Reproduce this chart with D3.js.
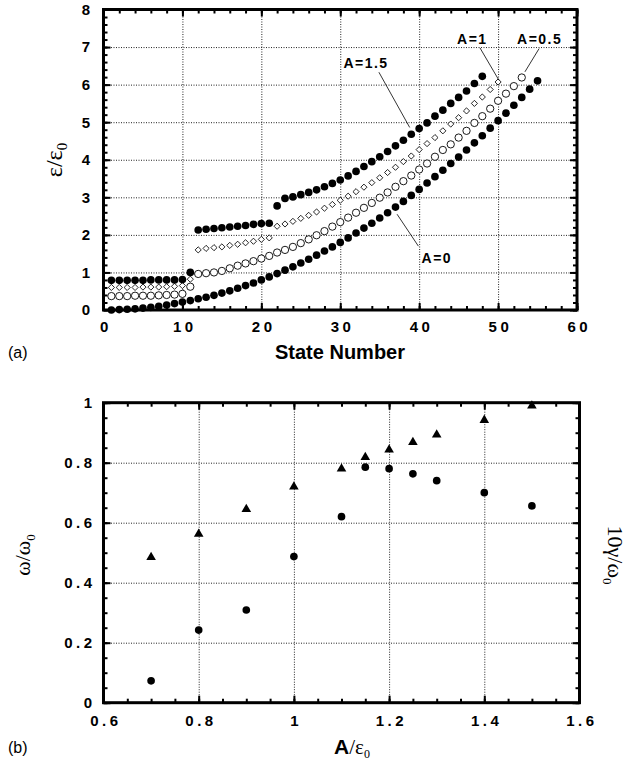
<!DOCTYPE html>
<html>
<head>
<meta charset="utf-8">
<script src="https://cdn.jsdelivr.net/npm/d3@7/dist/d3.min.js"></script>
<style>
  body { margin: 0; background: #fff; }
  .tick text { font-family: "Liberation Sans", Arial, sans-serif; font-weight: bold; fill: #000; }
  .rejilla line { stroke: #222; stroke-width: 1; stroke-dasharray: 1, 1.5; }
  .rejilla path, .marcas path { display: none; }
  .marcas line { stroke: #000; stroke-width: 2; }
</style>
</head>
<body>
<div id="graf"></div>
<script>
// Datos panel (a): energia de cada estado (estado n = indice + 1)
const energiaA0 = [0.00, 0.01, 0.02, 0.03, 0.05, 0.07, 0.10, 0.13, 0.17, 0.21,
  0.25, 0.30, 0.34, 0.39, 0.45, 0.51, 0.58, 0.65, 0.72, 0.80,
  0.88, 0.97, 1.06, 1.15, 1.25, 1.35, 1.46, 1.57, 1.68, 1.80,
  1.92, 2.05, 2.18, 2.31, 2.45, 2.59, 2.74, 2.89, 3.05, 3.21,
  3.38, 3.55, 3.72, 3.90, 4.07, 4.26, 4.45, 4.64, 4.84, 5.04,
  5.24, 5.45, 5.66, 5.88, 6.10]
const energiaA05 = [0.37, 0.37, 0.37, 0.38, 0.38, 0.38, 0.39, 0.40, 0.41, 0.43,
  0.62, 0.96, 0.98, 1.00, 1.04, 1.11, 1.18, 1.24, 1.30, 1.37,
  1.44, 1.53, 1.60, 1.68, 1.78, 1.88, 1.99, 2.10, 2.22, 2.34,
  2.46, 2.59, 2.72, 2.85, 2.99, 3.13, 3.28, 3.43, 3.58, 3.74,
  3.90, 4.08, 4.26, 4.41, 4.59, 4.77, 4.98, 5.16, 5.36, 5.57,
  5.76, 5.96, 6.19]
const energiaA1 = [0.60, 0.60, 0.60, 0.60, 0.61, 0.61, 0.61, 0.62, 0.63, 0.65,
  0.82, 1.60, 1.64, 1.66, 1.68, 1.72, 1.75, 1.79, 1.83, 1.88,
  1.92, 2.23, 2.29, 2.36, 2.44, 2.52, 2.61, 2.71, 2.81, 2.92,
  3.03, 3.15, 3.27, 3.39, 3.52, 3.66, 3.80, 3.95, 4.10, 4.27,
  4.43, 4.59, 4.77, 4.95, 5.12, 5.30, 5.50, 5.67, 5.87, 6.07]
const energiaA15 = [0.79, 0.79, 0.79, 0.79, 0.79, 0.80, 0.80, 0.80, 0.80, 0.81,
  1.00, 2.13, 2.15, 2.17, 2.19, 2.21, 2.23, 2.25, 2.28, 2.30,
  2.31, 2.77, 2.97, 3.01, 3.07, 3.13, 3.20, 3.28, 3.37, 3.46,
  3.57, 3.69, 3.82, 3.95, 4.08, 4.22, 4.37, 4.52, 4.68, 4.83,
  4.98, 5.16, 5.32, 5.50, 5.66, 5.83, 6.03, 6.22]
const xTicksA = [0, 10, 20, 30, 40, 50, 60]
const yTicksA = [0, 1, 2, 3, 4, 5, 6, 7, 8]

// Datos panel (b)
const amplitud = [0.7, 0.8, 0.9, 1.0, 1.1, 1.15, 1.2, 1.25, 1.3, 1.4, 1.5]
const valoresTriangulo = [0.485, 0.562, 0.645, 0.72, 0.78, 0.818, 0.843, 0.868, 0.893, 0.942, 0.99]
const valoresCirculo = [0.073, 0.242, 0.309, 0.487, 0.62, 0.785, 0.78, 0.763, 0.74, 0.70, 0.656]
const xTicksB = [0.6, 0.8, 1, 1.2, 1.4, 1.6]
const yTicksB = [0, 0.2, 0.4, 0.6, 0.8, 1]

// Etiquetas de las curvas (en coordenadas de datos)
const anotaciones = [
  { texto: "A=1.5", x: 30.4, y: 6.44, desde: [34.9, 6.33], hasta: [38.8, 4.86] },
  { texto: "A=1", x: 44.8, y: 7.07, desde: [47.7, 6.98], hasta: [50.1, 6.12] },
  { texto: "A=0.5", x: 52.4, y: 7.07, desde: [55.2, 6.96], hasta: [53.4, 6.34] },
  { texto: "A=0", x: 40.3, y: 1.25, desde: [39.9, 1.70], hasta: [37.2, 2.55] },
]

const svg = d3.select("#graf")
  .append("svg")
  .attr("width", 641)
  .attr("height", 764)
  .style("font-family", "'Liberation Sans', Arial, sans-serif")

svg.append("rect").attr("width", 641).attr("height", 764).attr("fill", "white")

// Dibuja rejilla, marcas y marco de un panel
const panel = (x, y, grid, xMinor, yMinor, xMajor, yMajor, opts) => {
  const [x0, x1] = x.range()
  const [y0, y1] = y.range()
  const alto = y0 - y1
  const ancho = x1 - x0
  const g = svg.append("g")

  // rejilla
  g.append("g").attr("class", "rejilla")
    .attr("transform", `translate(0, ${y0})`)
    .call(d3.axisBottom(x).tickValues(grid.x).tickSize(-alto).tickFormat(""))
  g.append("g").attr("class", "rejilla")
    .attr("transform", `translate(${x0}, 0)`)
    .call(d3.axisLeft(y).tickValues(grid.y).tickSize(-ancho).tickFormat(""))

  // marcas menores y mayores en los cuatro lados
  const lados = [
    [d3.axisBottom, x, `translate(0, ${y0})`, xMinor, xMajor],
    [d3.axisTop, x, `translate(0, ${y1})`, xMinor, xMajor],
    [d3.axisLeft, y, `translate(${x0}, 0)`, yMinor, yMajor],
    [d3.axisRight, y, `translate(${x1}, 0)`, yMinor, yMajor],
  ]
  lados.forEach(([eje, escala, t, menores, mayores]) => {
    g.append("g").attr("class", "marcas").attr("transform", t)
      .call(eje(escala).tickValues(menores).tickSize(-opts.menor).tickFormat(""))
    g.append("g").attr("class", "marcas").attr("transform", t)
      .call(eje(escala).tickValues(mayores).tickSize(-opts.mayor).tickFormat(""))
  })

  // marco
  g.append("rect")
    .attr("x", x0).attr("y", y1)
    .attr("width", ancho).attr("height", alto)
    .attr("fill", "none").attr("stroke", "#000").attr("stroke-width", 3)

  // etiquetas de los ejes
  const ejeX = g.append("g").attr("transform", `translate(0, ${y0})`)
    .call(d3.axisBottom(x).tickValues(xMajor).tickSize(0).tickPadding(opts.padX).tickFormat(opts.fmtX))
  const ejeY = g.append("g").attr("transform", `translate(${x0}, 0)`)
    .call(d3.axisLeft(y).tickValues(yMajor).tickSize(0).tickPadding(opts.padY).tickFormat(opts.fmtY))
  ;[ejeX, ejeY].forEach((e) => {
    e.select(".domain").remove()
    e.selectAll("text")
      .style("font-size", opts.fs + "px")
      .style("letter-spacing", "3.5px")
  })
  ejeX.selectAll("text").attr("dx", "1.8px")
  return g
}

// ---------- Panel (a) ----------
const xA = d3.scaleLinear().domain([0, 60]).range([103.5, 577])
const yA = d3.scaleLinear().domain([0, 8]).range([310, 9.5])

panel(xA, yA, { x: xTicksA, y: yTicksA },
  d3.range(0, 60.01, 2), d3.range(0, 8.01, 0.2), xTicksA, yTicksA,
  { menor: 4, mayor: 7, padX: 11, padY: 10, fs: 15, fmtX: d3.format("d"), fmtY: d3.format("d") })

const seriesA = [
  { valores: energiaA0, tipo: "lleno" },
  { valores: energiaA05, tipo: "abierto" },
  { valores: energiaA1, tipo: "diamante" },
  { valores: energiaA15, tipo: "lleno" },
]

const puntosA = svg.append("g")
seriesA.forEach((s) => {
  const sel = puntosA.append("g").selectAll("path")
    .data(s.valores.map((v, i) => ({ n: i + 1, e: v })))
    .join("path")
    .attr("transform", (d) => `translate(${xA(d.n)}, ${yA(d.e)})` + (s.tipo === "diamante" ? " rotate(45)" : ""))
  if (s.tipo === "lleno") {
    sel.attr("d", d3.symbol(d3.symbolCircle, 46)).attr("fill", "#000")
  } else if (s.tipo === "abierto") {
    sel.attr("d", d3.symbol(d3.symbolCircle, 42)).attr("fill", "#fff")
      .attr("stroke", "#000").attr("stroke-width", 0.9)
  } else {
    sel.attr("d", d3.symbol(d3.symbolSquare, 19)).attr("fill", "#fff")
      .attr("stroke", "#000").attr("stroke-width", 0.8)
  }
})

// anotaciones
const notas = svg.append("g")
notas.selectAll("line").data(anotaciones).join("line")
  .attr("x1", (d) => xA(d.desde[0])).attr("y1", (d) => yA(d.desde[1]))
  .attr("x2", (d) => xA(d.hasta[0])).attr("y2", (d) => yA(d.hasta[1]))
  .attr("stroke", "#000").attr("stroke-width", 0.8)
notas.selectAll("text").data(anotaciones).join("text")
  .attr("x", (d) => xA(d.x)).attr("y", (d) => yA(d.y))
  .attr("font-size", 14).attr("font-weight", "bold")
  .style("letter-spacing", "1.5px")
  .text((d) => d.texto)

// titulos panel (a)
svg.append("text").attr("x", 340).attr("y", 359)
  .attr("text-anchor", "middle").attr("font-size", 20).attr("font-weight", "bold")
  .text("State Number")
svg.append("text").attr("x", 8).attr("y", 358).attr("font-size", 16).text("(a)")

const tituloYA = svg.append("text")
  .attr("transform", "translate(62, 160) rotate(-90)")
  .attr("text-anchor", "middle")
  .attr("font-family", "'Liberation Serif', 'DejaVu Serif', serif")
  .attr("font-size", 24)
tituloYA.append("tspan").text("ε/ε")
tituloYA.append("tspan").attr("font-size", 15).attr("dy", 5).text("0")

// ---------- Panel (b) ----------
const xB = d3.scaleLinear().domain([0.6, 1.6]).range([103.5, 579.5])
const yB = d3.scaleLinear().domain([0, 1]).range([702.7, 402.7])

panel(xB, yB, { x: xTicksB, y: yTicksB },
  d3.range(0.6, 1.601, 0.05), d3.range(0, 1.001, 0.05), xTicksB, yTicksB,
  { menor: 4, mayor: 7, padX: 13, padY: 8, fs: 15,
    fmtX: (d) => (d === 1 ? "1" : d3.format(".1f")(d)),
    fmtY: (d) => (d === 0 || d === 1 ? String(d) : d3.format(".1f")(d)) })

const puntosB = svg.append("g")
puntosB.append("g").selectAll("path")
  .data(amplitud.map((a, i) => ({ a, v: valoresTriangulo[i] })))
  .join("path")
  .attr("transform", (d) => `translate(${xB(d.a)}, ${yB(d.v)})`)
  .attr("d", d3.symbol(d3.symbolTriangle, 40))
  .attr("fill", "#000")
puntosB.append("g").selectAll("path")
  .data(amplitud.map((a, i) => ({ a, v: valoresCirculo[i] })))
  .join("path")
  .attr("transform", (d) => `translate(${xB(d.a)}, ${yB(d.v)})`)
  .attr("d", d3.symbol(d3.symbolCircle, 46))
  .attr("fill", "#000")

// titulos panel (b)
const tituloXB = svg.append("text").attr("x", 352).attr("y", 754)
  .attr("text-anchor", "middle").attr("font-size", 21)
tituloXB.append("tspan").attr("font-weight", "bold").text("A")
tituloXB.append("tspan").attr("font-family", "'Liberation Serif', serif").text("/ε")
tituloXB.append("tspan").attr("font-family", "'Liberation Serif', serif")
  .attr("font-size", 12).attr("dy", 4).text("0")
svg.append("text").attr("x", 8).attr("y", 753).attr("font-size", 16).text("(b)")

const tituloYB = svg.append("text")
  .attr("transform", "translate(30, 555) rotate(-90)")
  .attr("text-anchor", "middle")
  .attr("font-family", "'Liberation Serif', 'DejaVu Serif', serif")
  .attr("font-size", 22)
tituloYB.append("tspan").text("ω/ω")
tituloYB.append("tspan").attr("font-size", 13).attr("dy", 5).text("0")

const tituloYB2 = svg.append("text")
  .attr("transform", "translate(608, 555) rotate(90)")
  .attr("text-anchor", "middle")
  .attr("font-family", "'Liberation Serif', 'DejaVu Serif', serif")
  .attr("font-size", 22)
tituloYB2.append("tspan").text("10γ/ω")
tituloYB2.append("tspan").attr("font-size", 13).attr("dy", 5).text("0")
</script>
</body>
</html>
